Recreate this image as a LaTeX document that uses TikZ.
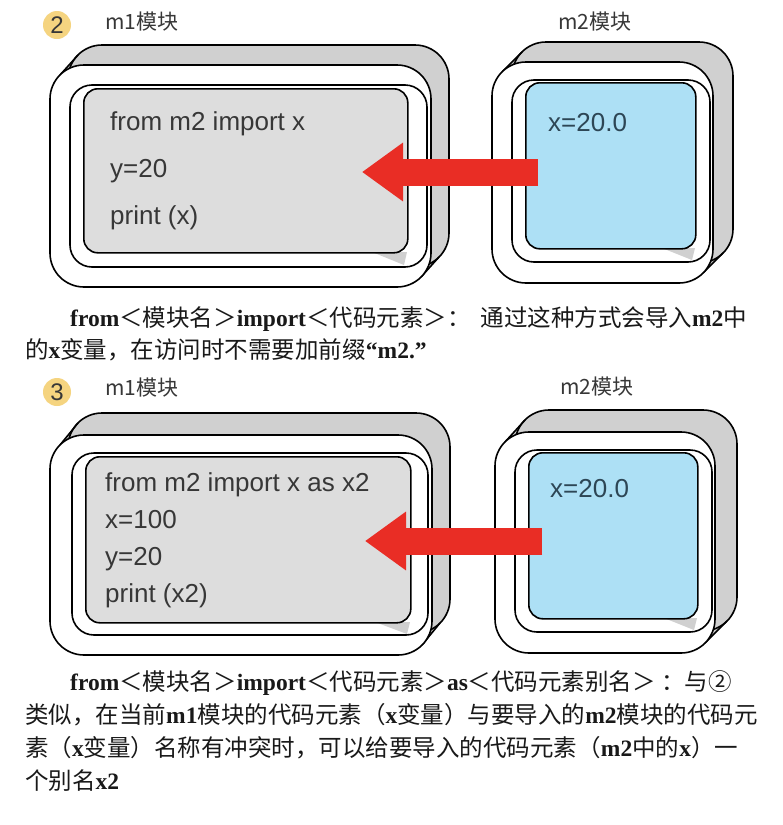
\documentclass[tikz,border=0pt]{standalone}
\usepackage{fontspec}
\setmainfont{Liberation Serif}
\newfontfamily\cjk{Noto Sans CJK SC}
\newfontfamily\codef{Liberation Sans}
\usetikzlibrary{arrows.meta, positioning}
\definecolor{sidegray}{RGB}{208,208,208}
\definecolor{codegray}{RGB}{221,221,221}
\definecolor{valblue}{RGB}{173,224,245}
\definecolor{arrowred}{RGB}{233,45,37}
\definecolor{badgeyel}{RGB}{245,212,128}
\definecolor{inktext}{RGB}{55,55,55}
\definecolor{valink}{RGB}{45,70,85}
\newcommand{\bl}[1]{{\rmfamily\bfseries #1}}

\begin{document}
\begin{tikzpicture}[x=1pt, y=-1pt,
    frame/.style={draw=black, line width=1.6pt},
    codebox/.style={frame, fill=codegray, rounded corners=14pt, inner sep=0pt, anchor=north west},
    valbox/.style={frame, fill=valblue, rounded corners=14pt, inner sep=0pt, anchor=north west},
    codetext/.style={font=\codef\fontsize{26}{47}\selectfont, text=inktext, align=left, inner sep=0pt},
    valtext/.style={font=\codef\fontsize{26}{30}\selectfont, text=valink, inner sep=0pt, anchor=base west},
    badge/.style={circle, fill=badgeyel, minimum size=28pt, inner sep=0pt, font=\codef\fontsize{24}{24}\selectfont, text=inktext},
    modlabel/.style={font=\cjk\fontsize{21}{24}\selectfont, text=inktext, inner sep=0pt},
    para/.style={font=\cjk\fontsize{23.5}{32}\selectfont, text=black!90, align=left, inner sep=0pt, anchor=base west},
    bigarrow/.style={draw=arrowred, line width=27pt, -{Triangle[width=56pt, length=41pt, fill=arrowred]}}]
    \useasboundingbox[fill=white] (0,0) rectangle (783,825);

    % ---- case 2
    \node[badge] (badge2) at (57,25) {2};
    \node[modlabel, anchor=west] (m1lab2) at (105,22) {m1模块};
    \node[modlabel] (m2lab2) at (595,22) {m2模块};

    % m1 frame
    \fill[sidegray] (60,75) -- (78,55) -- (439,257) -- (421,277) -- cycle;
    \draw[frame, fill=sidegray, rounded corners=34pt] (68,45) rectangle (449,267);
    \draw[frame] (60,75) -- (78,55) (439,257) -- (421,277);
    \draw[frame, fill=white, rounded corners=34pt] (50,65) rectangle (431,287);
    \draw[frame, rounded corners=22pt] (70,85) rectangle (427,267);
    \fill[sidegray] (372,252) -- (407,252) -- (404,265) -- cycle;
    \node[codebox, minimum width=324pt, minimum height=164pt] (m1box2) at (83,88) {};
    \node[codetext, right=27pt of m1box2.west] (code2) {from m2 import x\\y=20\\print (x)};

    % m2 frame
    \fill[sidegray] (502,72) -- (522,52) -- (723,253) -- (703,273) -- cycle;
    \draw[frame, fill=sidegray, rounded corners=34pt] (512,42) rectangle (733,263);
    \draw[frame] (502,72) -- (522,52) (723,253) -- (703,273);
    \draw[frame, fill=white, rounded corners=34pt] (492,62) rectangle (713,283);
    \draw[frame, rounded corners=22pt] (512,80) rectangle (710,262);
    \fill[sidegray] (662,248) -- (695,248) -- (692,260) -- cycle;
    \node[valbox, minimum width=170pt, minimum height=166pt] (m2box2) at (525,82) {};
    \node[valtext] (val2) at (548,131) {x=20.0};

    \coordinate (a2from) at (538,172);
    \coordinate (a2to) at (362,172);
    \draw[bigarrow] (a2from) -- (a2to);

    \node[para] (text2) at (25,358) {\hspace*{45pt}\bl{from}＜模块名＞\bl{import}＜代码元素＞：\hspace{10pt}通过这种方式会导入\bl{m2}中\\
      的\bl{x}变量，在访问时不需要加前缀\bl{“m2.”}};

    % ---- case 3
    \node[badge] (badge3) at (57,392) {3};
    \node[modlabel, anchor=west] (m1lab3) at (105,388) {m1模块};
    \node[modlabel] (m2lab3) at (597,387) {m2模块};

    % m1 frame
    \fill[sidegray] (60,445) -- (78,423) -- (440,623) -- (422,645) -- cycle;
    \draw[frame, fill=sidegray, rounded corners=34pt] (68,413) rectangle (450,633);
    \draw[frame] (60,445) -- (78,423) (440,623) -- (422,645);
    \draw[frame, fill=white, rounded corners=34pt] (50,435) rectangle (432,655);
    \draw[frame, rounded corners=22pt] (72,453) rectangle (428,635);
    \fill[sidegray] (375,622) -- (410,622) -- (407,634) -- cycle;
    \node[codebox, minimum width=325pt, minimum height=166pt] (m1box3) at (85,456) {};
    \node[codetext, font=\codef\fontsize{26}{37}\selectfont, right=20pt of m1box3.west] (code3) {from m2 import x as x2\\x=100\\y=20\\print (x2)};

    % m2 frame
    \fill[sidegray] (505,442) -- (525,420) -- (727,621) -- (705,643) -- cycle;
    \draw[frame, fill=sidegray, rounded corners=34pt] (515,410) rectangle (737,631);
    \draw[frame] (505,442) -- (525,420) (727,621) -- (705,643);
    \draw[frame, fill=white, rounded corners=34pt] (495,432) rectangle (715,653);
    \draw[frame, rounded corners=22pt] (515,450) rectangle (712,632);
    \fill[sidegray] (664,618) -- (697,618) -- (694,630) -- cycle;
    \node[valbox, minimum width=169pt, minimum height=166pt] (m2box3) at (528,452) {};
    \node[valtext] (val3) at (550,497) {x=20.0};

    \coordinate (a3from) at (542,541);
    \coordinate (a3to) at (365,541);
    \draw[bigarrow] (a3from) -- (a3to);

    \node[para, font=\cjk\fontsize{23.5}{33}\selectfont] (text3) at (25,789) {\hspace*{45pt}\bl{from}＜模块名＞\bl{import}＜代码元素＞\bl{as}＜代码元素别名＞ ：与②\\
      类似，在当前\bl{m1}模块的代码元素（\bl{x}变量）与要导入的\bl{m2}模块的代码元\\
      素（\bl{x}变量）名称有冲突时，可以给要导入的代码元素（\bl{m2}中的\bl{x}）一\\
      个别名\bl{x2}};
\end{tikzpicture}
\end{document}
